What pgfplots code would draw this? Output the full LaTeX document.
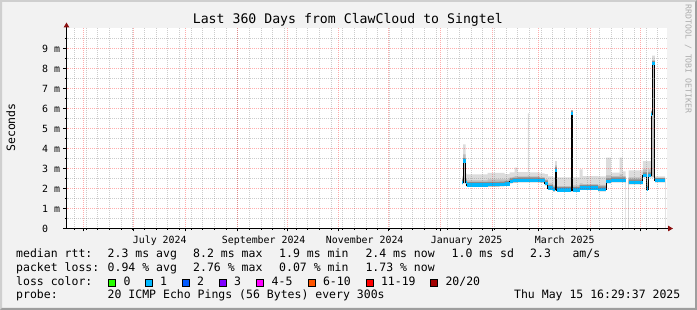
\documentclass[border=0pt]{standalone}
\usepackage{fontspec}
\setmainfont{DejaVu Sans Mono}
\setmonofont{DejaVu Sans Mono}
\usepackage{pgfplots}
\usepackage{pgfplotstable}
\pgfplotsset{compat=1.18}
\usetikzlibrary{arrows.meta}

\definecolor{canvasbg}{HTML}{F2F2F2}
\definecolor{shadea}{HTML}{CFCFCF}
\definecolor{shadeb}{HTML}{9E9E9E}
\definecolor{arrowred}{HTML}{8B1010}
\definecolor{smokeA}{HTML}{DCDCDC}
\definecolor{smokeB}{HTML}{BDBDBD}
\definecolor{smokeC}{HTML}{8C8C8C}
\definecolor{loss0}{HTML}{26FF00}
\definecolor{loss1}{HTML}{00B8FF}
\definecolor{loss2}{HTML}{0059FF}
\definecolor{loss3}{HTML}{7E00FF}
\definecolor{loss4}{HTML}{FF00FF}
\definecolor{loss6}{HTML}{FF5500}
\definecolor{loss11}{HTML}{FF0000}
\definecolor{loss20}{HTML}{A10000}
\definecolor{wmark}{HTML}{ADADAD}

\newcommand\lgfont{\fontsize{11.5}{13}\selectfont}
\newcommand\tkfont{\fontsize{9.9}{11}\selectfont}
\newcommand\ttlfont{\fontsize{13.2}{15}\selectfont}

% x = days since 20 May 2024, y = milliseconds
\pgfplotstableread{
x     lo    med   mid   hi
237.4 2.20  2.30  2.45  2.60
238.0 2.25  3.37  3.70  4.20
239.4 2.20  2.30  2.50  2.75
240.0 2.08  2.17  2.40  2.70
252.6 2.08  2.18  2.45  2.78
259.8 2.10  2.19  2.45  2.78
262.8 2.13  2.22  2.45  2.72
265.8 2.26  2.35  2.55  2.80
267.6 2.28  2.38  2.58  2.80
268.8 2.28  2.38  2.62  3.04
270.6 2.30  2.40  2.60  2.82
276.8 2.30  2.40  2.65  5.76
277.4 2.30  2.40  2.60  2.80
283.8 2.28  2.38  2.55  2.75
286.8 2.15  2.25  2.45  2.72
288.8 1.92  2.02  2.25  2.60
291.8 1.84  1.93  2.15  2.55
293.2 1.88  2.91  3.15  3.37
294.2 1.84  1.92  2.12  2.55
302.8 1.84  5.76  5.82  5.90
303.8 1.84  1.92  2.15  2.55
307.8 1.92  2.02  2.25  2.96
309.6 1.92  2.02  2.22  2.62
318.8 1.86  1.95  2.18  2.60
323.8 2.25  2.35  2.65  3.54
326.8 2.31  2.41  2.62  2.79
331.8 2.31  2.41  2.70  3.54
333.6 2.31  2.41  2.62  2.85
335.4 2.31  2.41  2.62  2.85
}\segA

\pgfplotstableread{
x     lo    med   mid   hi
337.2 2.20  2.30  2.55  2.90
345.8 2.56  2.66  2.95  3.37
348.2 1.88  1.97  2.30  3.37
349.0 2.56  2.66  2.95  3.37
350.8 2.56  5.70  5.80  5.90
351.4 2.56  8.23  8.40  8.64
353.0 2.30  2.38  2.50  2.60
359.2 2.30  2.38  2.50  2.60
}\segB

\begin{document}
\begin{tikzpicture}
\fill[canvasbg] (0pt,0pt) rectangle (697pt,310pt);
\fill[shadea] (0pt,0pt) -- (0pt,310pt) -- (697pt,310pt) -- (695pt,308pt) -- (2pt,308pt) -- (2pt,2pt) -- cycle;
\fill[shadeb] (0pt,0pt) -- (697pt,0pt) -- (697pt,310pt) -- (695pt,308pt) -- (695pt,2pt) -- (2pt,2pt) -- cycle;

\begin{axis}[
  at={(66.5pt,81.5pt)}, anchor=south west,
  scale only axis, width=600pt, height=200pt,
  xmin=0, xmax=360, ymin=0, ymax=10,
  axis on top,
  axis lines=left,
  axis line style={black, line width=1pt},
  x axis line style={-{Triangle[length=5pt,width=5.5pt,color=arrowred]}, shorten >=-6.5pt},
  y axis line style={-{Triangle[length=5pt,width=5.5pt,color=arrowred]}, shorten >=-6pt},
  axis background/.style={fill=white},
  % month starts (1 Jun 2024 ... 1 May 2025); labels sit mid-month
  xtick={10.2,40.2,71.4,102.6,132.6,163.2,193.2,224.4,255.6,283.2,314.4,344.4},
  xticklabels={,July 2024,,September 2024,,November 2024,,January 2025,,March 2025,,},
  minor xtick={4.8,12.0,18.6,25.8,33.0,39.6,46.8,54.0,60.6,67.8,75.0,81.6,88.8,96.0,102.6,109.8,117.0,123.6,130.8,138.0,144.6,151.8,159.0,165.6,172.8,180.0,186.6,193.8,201.0,207.6,214.8,222.0,228.6,235.8,243.0,249.6,256.8,264.0,270.6,277.8,285.0,291.6,298.8,306.0,312.6,319.8,327.0,333.6,340.8,348.0,354.6},
  ytick={0,1,2,3,4,5,6,7,8,9},
  yticklabels={0,1 m,2 m,3 m,4 m,5 m,6 m,7 m,8 m,9 m},
  minor ytick={0.5,1.5,2.5,3.5,4.5,5.5,6.5,7.5,8.5,9.5},
  grid=both,
  major grid style={draw=red, draw opacity=0.32, dash pattern=on 1pt off 1pt, dash phase=0.5pt, line width=1pt},
  minor grid style={draw=black!50, draw opacity=0.4, dash pattern=on 1pt off 1pt, dash phase=0.5pt, line width=1pt},
  tick align=outside,
  major tick length=3pt, minor tick length=1.5pt,
  tick style={black, line width=1pt},
  xticklabel style={font=\tkfont, anchor=base, xshift=26.2pt, yshift=-12.5pt},
  yticklabel style={font=\tkfont, anchor=base west, xshift=-24.8pt, yshift=-3.6pt},
  ylabel={Seconds},
  every axis y label/.style={at={([xshift=-55.7pt,yshift=1pt]axis description cs:0,0.5)}, rotate=90, anchor=center, font=\lgfont},
  title={Last 360 Days from ClawCloud to Singtel},
  every axis title/.style={at={([xshift=-18.7pt,yshift=4.5pt]axis description cs:0.5,1)}, anchor=base, font=\ttlfont},
]
% smoke, segment A (stacked from the bottom up, each layer drawn over the last)
\addplot[fill=smokeA, draw=none, const plot mark left, forget plot] table[x=x,y=hi]{\segA} \closedcycle;
\addplot[fill=smokeB, draw=none, const plot mark left, forget plot] table[x=x,y=mid]{\segA} \closedcycle;
\addplot[fill=smokeC, draw=none, const plot mark left, forget plot] table[x=x,y expr=\thisrow{med}+0.15]{\segA} \closedcycle;
\addplot[fill=smokeB, draw=none, const plot mark left, forget plot] table[x=x,y expr=\thisrow{med}-0.05]{\segA} \closedcycle;
\addplot[fill=white, draw=none, const plot mark left, forget plot] table[x=x,y=lo]{\segA} \closedcycle;
% smoke, segment B
\addplot[fill=smokeA, draw=none, const plot mark left, forget plot] table[x=x,y=hi]{\segB} \closedcycle;
\addplot[fill=smokeB, draw=none, const plot mark left, forget plot] table[x=x,y=mid]{\segB} \closedcycle;
\addplot[fill=smokeC, draw=none, const plot mark left, forget plot] table[x=x,y expr=\thisrow{med}+0.15]{\segB} \closedcycle;
\addplot[fill=smokeB, draw=none, const plot mark left, forget plot] table[x=x,y expr=\thisrow{med}-0.05]{\segB} \closedcycle;
\addplot[fill=white, draw=none, const plot mark left, forget plot] table[x=x,y=lo]{\segB} \closedcycle;
% median
\addplot[black, line width=1pt, const plot mark left, forget plot] table[x=x,y=med]{\segA};
\addplot[black, line width=1pt, const plot mark left, forget plot] table[x=x,y=med]{\segB};
\addplot[loss1, line width=3.2pt, jump mark left, forget plot] table[x=x,y=med]{\segA};
\addplot[loss1, line width=3.2pt, jump mark left, forget plot] table[x=x,y=med]{\segB};
\end{axis}

% watermark
\node[rotate=-90, font=\fontsize{8.2}{9}\selectfont, text=wmark, inner sep=0pt] at (688.3pt,251pt) {RRDTOOL / TOBI OETIKER};

% legend
\begin{scope}[every node/.style={anchor=base west, inner sep=0pt, font=\lgfont}]
\node at (16pt,52.3pt) {median rtt:};
\node at (107.5pt,52.3pt) {2.3 ms avg};
\node at (193pt,52.3pt) {8.2 ms max};
\node at (279pt,52.3pt) {1.9 ms min};
\node at (365.3pt,52.3pt) {2.4 ms now};
\node at (451.5pt,52.3pt) {1.0 ms sd};
\node at (530pt,52.3pt) {2.3};
\node at (572.3pt,52.3pt) {am/s};

\node at (16pt,38.6pt) {packet loss:};
\node at (107.5pt,38.6pt) {0.94 \% avg};
\node at (193pt,38.6pt) {2.76 \% max};
\node at (279pt,38.6pt) {0.07 \% min};
\node at (365.3pt,38.6pt) {1.73 \% now};

\node at (16pt,24.9pt) {loss color:};
\node at (123.3pt,24.9pt) {0};
\node at (160pt,24.9pt) {1};
\node at (196.9pt,24.9pt) {2};
\node at (233.9pt,24.9pt) {3};
\node at (271.5pt,24.9pt) {4-5};
\node at (322.8pt,24.9pt) {6-10};
\node at (380.8pt,24.9pt) {11-19};
\node at (445.3pt,24.9pt) {20/20};

\node at (16pt,11.1pt) {probe:};
\node at (107.5pt,11.1pt) {20 ICMP Echo Pings (56 Bytes) every 300s};
\node[anchor=base east] at (680.5pt,11.1pt) {Thu May 15 16:29:37 2025};
\end{scope}
\begin{scope}[line width=1pt]
\filldraw[fill=loss0, draw=black] (108.5pt,23.5pt) rectangle (115.5pt,30.5pt);
\filldraw[fill=loss1, draw=black] (145.5pt,23.5pt) rectangle (152.5pt,30.5pt);
\filldraw[fill=loss2, draw=black] (182.5pt,23.5pt) rectangle (189.5pt,30.5pt);
\filldraw[fill=loss3, draw=black] (219.5pt,23.5pt) rectangle (226.5pt,30.5pt);
\filldraw[fill=loss4, draw=black] (256.5pt,23.5pt) rectangle (263.5pt,30.5pt);
\filldraw[fill=loss6, draw=black] (308.5pt,23.5pt) rectangle (315.5pt,30.5pt);
\filldraw[fill=loss11, draw=black] (366.5pt,23.5pt) rectangle (373.5pt,30.5pt);
\filldraw[fill=loss20, draw=black] (430.5pt,23.5pt) rectangle (437.5pt,30.5pt);
\end{scope}
\pgfresetboundingbox
\useasboundingbox (0pt,0pt) rectangle (697pt,310pt);
\end{tikzpicture}
\end{document}
